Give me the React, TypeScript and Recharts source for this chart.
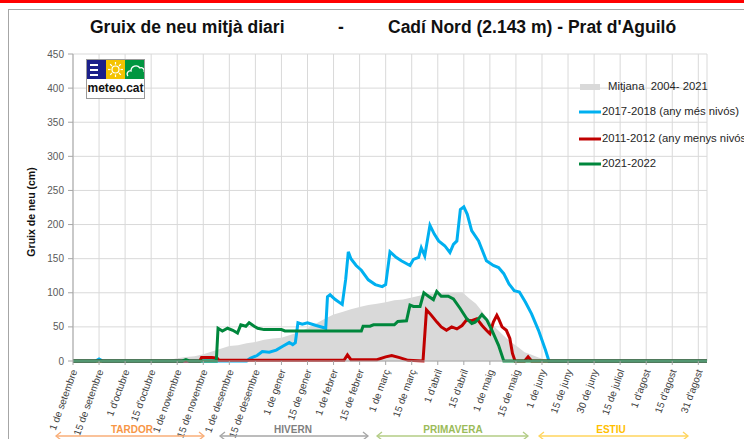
import React from 'react';
import { ComposedChart, Area, Line, XAxis, YAxis, CartesianGrid } from 'recharts';

const FONT = '"Liberation Sans", Arial, sans-serif';

// x axis: day of the snow season, 0 = 1 de setembre
const tickDays = [0, 15, 30, 45, 60, 75, 90, 105, 120, 135, 150, 165, 180, 195, 210, 225, 240, 255, 270, 285, 300, 315, 330, 345, 360];
const tickLabels = [
  '1 de setembre', '15 de setembre', "1 d'octubre", "15 d'octubre", '1 de novembre', '15 de novembre',
  '1 de desembre', '15 de desembre', '1 de gener', '15 de gener', '1 de febrer', '15 de febrer',
  '1 de març', '15 de març', "1 d'abril", "15 d'abril", '1 de maig', '15 de maig',
  '1 de juny', '15 de juny', '30 de juny', '15 de juliol', "1 d'agost", "15 d'agost", "31 d'agost",
];
const yTicks = [0, 50, 100, 150, 200, 250, 300, 350, 400, 450];

// Mitjana 2004-2021
const avgDays = [0, 52, 56, 60, 65, 70, 75, 80, 85, 90, 95, 100, 105, 110, 115, 120, 125, 130, 135, 140, 145, 150, 155, 160, 165, 170, 175, 180, 185, 190, 195, 200, 205, 210, 215, 220, 224, 228, 232, 236, 240, 244, 248, 252, 256, 260, 264, 268, 272, 276, 365];
const avgValues = [0, 0, 2, 4, 6, 7, 10, 14, 18, 22, 23, 26, 28, 31, 33, 34, 38, 42, 48, 55, 62, 68, 72, 76, 79, 82, 84, 86, 89, 90, 93, 96, 99, 99, 101, 101, 101, 92, 84, 71, 58, 47, 37, 28, 21, 13, 9, 5, 2, 0, 0];

// 2017-2018 (any més nivós)
const snowyDays = [0, 13, 15, 17, 100, 102, 106, 109, 113, 117, 121, 124.5, 126.5, 128, 129.5, 132, 135, 140, 145.5, 146.5, 148, 151, 155, 157, 158.5, 160, 163, 166, 170, 174, 178, 180, 182.5, 186, 189, 194, 196, 199, 200.5, 202.5, 205.5, 208, 210.5, 214, 217, 219, 221, 223, 225, 227, 229.5, 233.5, 238, 242, 245, 248, 251, 254, 257, 260.5, 264, 268, 272, 274, 365];
const snowyValues = [0, 0, 3, 0, 0, 4, 8, 14, 13, 16, 22, 27, 24, 27, 56, 54, 56, 52, 48, 94, 97, 90, 83, 120, 160, 150, 140, 133, 119, 112, 109, 112, 160, 152, 147, 140, 149, 152, 166, 154, 199, 186, 176, 169, 159, 171, 176, 222, 226, 215, 191, 176, 147, 140, 137, 128, 113, 103, 101, 86, 69, 45, 16, 0, 0];

// 2011-2012 (any menys nivós)
const dryDays = [0, 73, 74, 80, 83, 84, 156, 158, 160, 175, 180, 183.5, 188, 193, 201.5, 203.5, 206, 209.5, 212, 215, 218, 221, 224, 226.5, 229.5, 232.5, 235.5, 238, 240, 242, 244, 245, 247, 249.5, 251.5, 253, 254.5, 260, 262, 264, 365];
const dryValues = [0, 0, 5, 5, 4, 1, 1, 9, 2, 2, 6, 8, 5, 1, 0, 75, 68, 57, 50, 45, 50, 47, 52, 60, 59, 62, 52, 45, 40, 57, 67, 62, 50, 45, 33, 11, 0, 0, 6, 0, 0];

// 2021-2022
const currentDays = [0, 63, 65, 67, 82.5, 83.5, 86, 89, 92, 94.7, 96.6, 99.5, 101.4, 104.3, 106.3, 110, 120, 122, 166, 167, 171, 173, 185, 187, 192, 194, 196, 199.8, 202, 204.6, 207.5, 209.4, 212, 216, 219, 222.9, 226.7, 229.6, 231.5, 233.5, 235.4, 238.3, 241.2, 245, 248, 365];
const currentValues = [0, 0, 2, 0, 0, 48, 44, 48, 45, 41, 53, 51, 56, 51, 48, 46, 46, 44, 44, 51, 51, 53, 53, 58, 59, 82, 80, 80, 100, 95, 90, 102, 95, 95, 91, 77, 62, 55, 57, 62, 68, 60, 45, 23, 0, 0];

const toPoints = (days: number[], values: number[]) => days.map((day, i) => ({ day, value: values[i] }));

const avgData = toPoints(avgDays, avgValues);
const snowyData = toPoints(snowyDays, snowyValues);
const dryData = toPoints(dryDays, dryValues);
const currentData = toPoints(currentDays, currentValues);

const BLUE = '#00B0F0';
const RED = '#C00000';
const GREEN = '#00873C';
const GREY_AREA = '#D9D9D9';

function DateTick(props: any) {
  const { x, y, payload } = props;
  const label = tickLabels[tickDays.indexOf(payload.value)];
  const ax = x + 2;
  const ay = y + 5;
  return (
    <text
      x={ax}
      y={ay}
      transform={`rotate(-70 ${ax} ${ay})`}
      textAnchor="end"
      dominantBaseline="middle"
      fontSize={10}
      fontFamily={FONT}
      fill="#404040"
    >
      {label}
    </text>
  );
}

function SeasonArrow({ from, to, y, color }: { from: number; to: number; y: number; color: string }) {
  return (
    <g stroke={color} strokeWidth={1.3} fill="none">
      <line x1={from} y1={y} x2={to} y2={y} />
      <polyline points={`${from + 5},${y - 4} ${from},${y} ${from + 5},${y + 4}`} />
      <polyline points={`${to - 5},${y - 4} ${to},${y} ${to - 5},${y + 4}`} />
    </g>
  );
}

function Logo() {
  return (
    <div style={{ position: 'absolute', left: 86, top: 59, width: 59, height: 40, border: '1px solid #9a9a9a', background: '#fff', boxSizing: 'border-box' }}>
      <svg width={57} height={19} style={{ display: 'block' }}>
        <rect x={0} y={0} width={19} height={19} fill="#1B1F8A" />
        <rect x={3} y={4} width={8} height={2} fill="#fff" />
        <rect x={3} y={9} width={8} height={2} fill="#fff" />
        <rect x={3} y={14} width={8} height={2} fill="#fff" />
        <rect x={19} y={0} width={19} height={19} fill="#F4C300" />
        <circle cx={28.5} cy={9.5} r={3.5} fill="none" stroke="#fff" strokeWidth={1.2} />
        {[0, 45, 90, 135, 180, 225, 270, 315].map((a) => {
          const r = (a * Math.PI) / 180;
          return (
            <line key={a} x1={28.5 + Math.cos(r) * 5} y1={9.5 + Math.sin(r) * 5} x2={28.5 + Math.cos(r) * 7.5} y2={9.5 + Math.sin(r) * 7.5} stroke="#fff" strokeWidth={1.2} />
          );
        })}
        <rect x={38} y={0} width={19} height={19} fill="#009640" />
        <path d="M41 16 C39 14 41 10 44 11 C44 6 50 4 53 8 C55 7 58 9 57 12" fill="none" stroke="#fff" strokeWidth={1.3} />
      </svg>
      <div style={{ fontFamily: FONT, fontSize: 12, fontWeight: 'bold', color: '#111', textAlign: 'center', lineHeight: '19px' }}>meteo.cat</div>
    </div>
  );
}

const legendItems = [
  { label: '2017-2018 (any més nivós)', color: BLUE, y: 112 },
  { label: '2011-2012 (any menys nivós)', color: RED, y: 139 },
  { label: '2021-2022', color: GREEN, y: 164 },
];

export default function App() {
  return (
    <div style={{ position: 'relative', width: 744, height: 439, overflow: 'hidden', background: '#fff', fontFamily: FONT }}>
      <style>{'body { margin: 0; }'}</style>
      <div style={{ position: 'absolute', left: 0, top: 0, width: 744, height: 3, background: '#FF0000' }} />
      <div style={{ position: 'absolute', left: 8, top: 9, width: 740, height: 450, borderLeft: '1px solid #A6A6A6', borderTop: '1px solid #A6A6A6' }} />

      <div style={{ position: 'absolute', top: 17, left: 0, width: 744, height: 22, fontSize: 17.5, fontWeight: 'bold', color: '#111', whiteSpace: 'nowrap' }}>
        <span style={{ position: 'absolute', left: 90 }}>Gruix de neu mitjà diari</span>
        <span style={{ position: 'absolute', left: 338 }}>-</span>
        <span style={{ position: 'absolute', left: 388 }}>Cadí Nord (2.143 m) - Prat d'Aguiló</span>
      </div>

      <div style={{ position: 'absolute', left: 0, top: 0 }}>
        <ComposedChart width={744} height={439} margin={{ top: 54, right: 37, bottom: 0, left: 0 }}>
          <CartesianGrid stroke="#D9D9D9" strokeWidth={1} />
          <XAxis
            dataKey="day"
            type="number"
            domain={[0, 365]}
            ticks={tickDays}
            interval={0}
            height={78}
            stroke="#A6A6A6"
            tickSize={4}
            tickMargin={0}
            tick={<DateTick />}
            allowDataOverflow
          />
          <YAxis
            type="number"
            domain={[0, 450]}
            ticks={yTicks}
            interval={0}
            width={73}
            stroke="#A6A6A6"
            tickSize={5}
            tickMargin={4}
            tick={{ fontSize: 10, fill: '#595959', fontFamily: FONT }}
          />
          <Area data={avgData} dataKey="value" type="linear" stroke="none" fill={GREY_AREA} fillOpacity={1} isAnimationActive={false} />
          <Line data={snowyData} dataKey="value" type="linear" stroke={BLUE} strokeWidth={3} dot={false} activeDot={false} isAnimationActive={false} />
          <Line data={dryData} dataKey="value" type="linear" stroke={RED} strokeWidth={3} dot={false} activeDot={false} isAnimationActive={false} />
          <Line data={currentData} dataKey="value" type="linear" stroke={GREEN} strokeWidth={3} dot={false} activeDot={false} isAnimationActive={false} />
        </ComposedChart>
      </div>

      <svg width={744} height={439} style={{ position: 'absolute', left: 0, top: 0, pointerEvents: 'none' }}>
        <text x={32} y={212} transform="rotate(-90 32 212)" textAnchor="middle" dominantBaseline="middle" fontSize={10.5} fontWeight="bold" fill="#111" fontFamily={FONT}>
          Gruix de neu (cm)
        </text>

        <rect x={580} y={84} width={20} height={6} fill={GREY_AREA} />
        <text x={608} y={87} dominantBaseline="middle" fontSize={11.3} fill="#262626" fontFamily={FONT} xmlSpace="preserve">
          {'Mitjana  2004- 2021'}
        </text>
        {legendItems.map((it) => (
          <g key={it.label}>
            <line x1={579} y1={it.y} x2={601} y2={it.y} stroke={it.color} strokeWidth={3} />
            <text x={602} y={it.y} dominantBaseline="middle" fontSize={11.3} fill="#262626" fontFamily={FONT}>
              {it.label}
            </text>
          </g>
        ))}

        <text x={132} y={430} textAnchor="middle" dominantBaseline="middle" fontSize={10} fontWeight="bold" fill="#F79646" fontFamily={FONT}>TARDOR</text>
        <SeasonArrow from={56} to={204} y={436} color="#F9AE78" />
        <text x={293} y={430} textAnchor="middle" dominantBaseline="middle" fontSize={10} fontWeight="bold" fill="#7F7F7F" fontFamily={FONT}>HIVERN</text>
        <SeasonArrow from={220} to={368} y={436} color="#A6A6A6" />
        <text x={453} y={430} textAnchor="middle" dominantBaseline="middle" fontSize={10} fontWeight="bold" fill="#9BBB59" fontFamily={FONT}>PRIMAVERA</text>
        <SeasonArrow from={377} to={528} y={436} color="#B3CC85" />
        <text x={611} y={430} textAnchor="middle" dominantBaseline="middle" fontSize={10} fontWeight="bold" fill="#FFC000" fontFamily={FONT}>ESTIU</text>
        <SeasonArrow from={539} to={688} y={436} color="#FFD55C" />
      </svg>

      <Logo />
    </div>
  );
}
